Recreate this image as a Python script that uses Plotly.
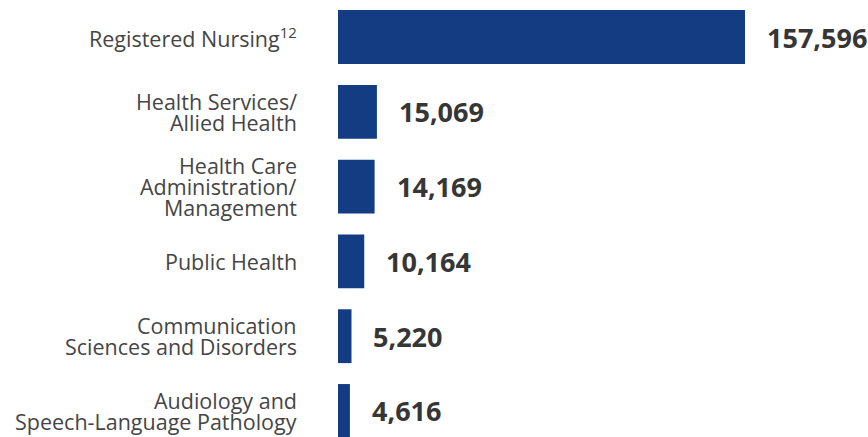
import plotly.graph_objects as go

categories = [
    "Registered Nursing<sup>12</sup>",
    "Health Services/<br>Allied Health",
    "Health Care<br>Administration/<br>Management",
    "Public Health",
    "Communication<br>Sciences and Disorders",
    "Audiology and<br>Speech-Language Pathology",
]
values = [157596, 15069, 14169, 10164, 5220, 4616]
value_labels = ["157,596", "15,069", "14,169", "10,164", "5,220", "4,616"]

BAR_COLOR = "#133c82"
LABEL_COLOR = "#454545"
VALUE_COLOR = "#363636"
FONT = "Open Sans"

fig = go.Figure(
    go.Bar(
        x=values,
        y=list(range(len(categories))),
        orientation="h",
        marker=dict(color=BAR_COLOR, line=dict(width=0)),
        hoverinfo="skip",
    )
)

annotations = []
line_h = 21.3
for i, (cat, v, lab) in enumerate(zip(categories, values, value_labels)):
    lines = cat.split("<br>")
    n = len(lines)
    for k, ln in enumerate(lines):
        annotations.append(dict(
            x=0, y=i, xref="x", yref="y", text=ln, showarrow=False,
            xanchor="right", yanchor="middle", xshift=-39,
            yshift=-(k - (n - 1) / 2) * line_h,
            font=dict(family=FONT, size=21.5, color=LABEL_COLOR),
        ))
    annotations.append(dict(
        x=v, y=i, xref="x", yref="y", text="<b>" + lab + "</b>", showarrow=False,
        xanchor="left", yanchor="middle", xshift=20,
        font=dict(family=FONT, size=27, color=VALUE_COLOR),
    ))

fig.update_layout(
    width=868, height=437,
    margin=dict(l=338, r=0, t=0, b=0),
    paper_bgcolor="white", plot_bgcolor="white",
    bargap=0.28,
    showlegend=False,
    xaxis=dict(range=[0, 205228], visible=False, fixedrange=True),
    yaxis=dict(range=[5.348, -0.495], visible=False, fixedrange=True),
    annotations=annotations,
    font=dict(family=FONT),
)

fig.write_html(
    "out.html",
    config={"displayModeBar": False},
    post_script="document.body.style.margin='0';document.body.style.overflow='hidden';",
)
